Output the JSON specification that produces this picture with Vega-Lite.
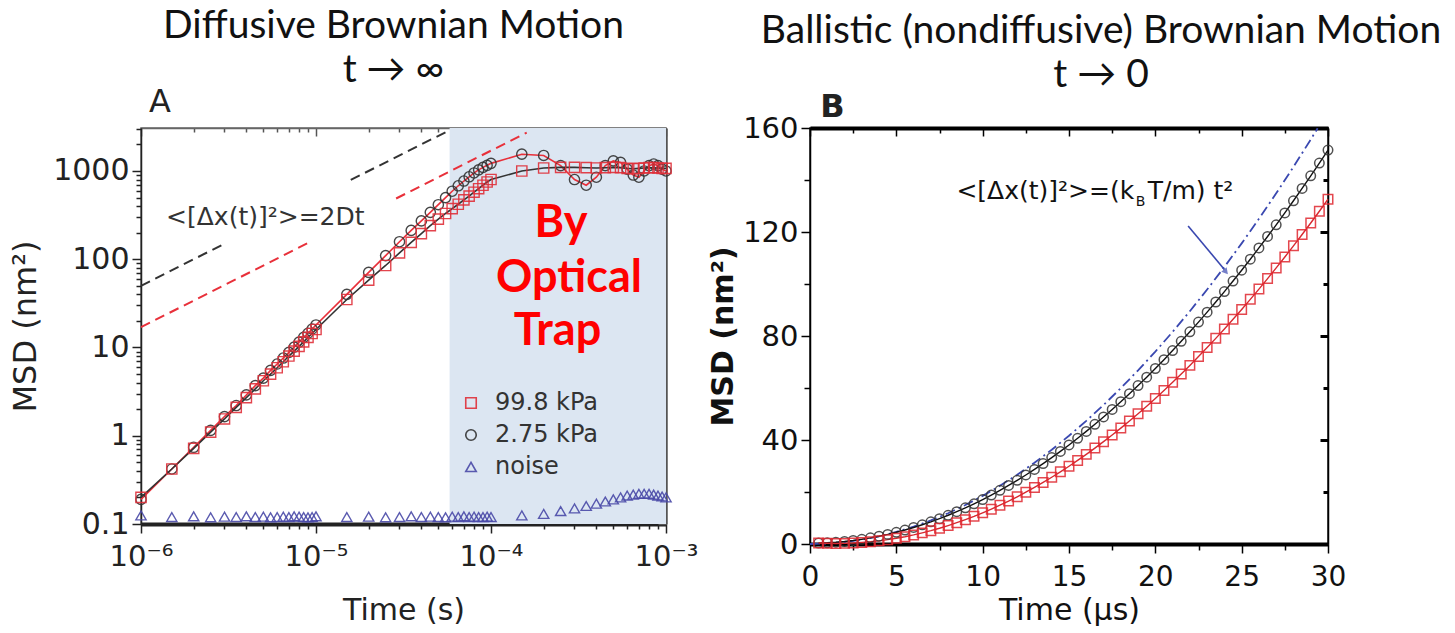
{
  "$schema": "https://vega.github.io/schema/vega-lite/v6.json",
  "padding": {"left": 8, "top": 6, "right": 0, "bottom": 0},
  "background": "white",
  "config": {
    "font": "DejaVu Sans",
    "axis": {"grid": false, "labelFont": "DejaVu Sans", "titleFont": "DejaVu Sans", "labelColor": "#222", "titleColor": "#222", "titleFontWeight": "normal", "labelOverlap": false, "labelBound": false, "labelFlush": false, "tickColor": "#222", "domainColor": "#222", "tickWidth": 1.5},
    "legend": {"labelFont": "DejaVu Sans", "title": null}
  },
  "datasets": {
    "A": [
      {"t":1e-6,"m":0.19,"s":"2.75 kPa"},{"t":1.5e-6,"m":0.42,"s":"2.75 kPa"},{"t":2e-6,"m":0.74,"s":"2.75 kPa"},{"t":2.5e-6,"m":1.15,"s":"2.75 kPa"},{"t":3e-6,"m":1.65,"s":"2.75 kPa"},{"t":3.5e-6,"m":2.2,"s":"2.75 kPa"},{"t":4e-6,"m":2.9,"s":"2.75 kPa"},{"t":4.5e-6,"m":3.7,"s":"2.75 kPa"},{"t":5e-6,"m":4.5,"s":"2.75 kPa"},{"t":5.5e-6,"m":5.5,"s":"2.75 kPa"},{"t":6e-6,"m":6.5,"s":"2.75 kPa"},{"t":6.5e-6,"m":7.6,"s":"2.75 kPa"},{"t":7e-6,"m":8.8,"s":"2.75 kPa"},{"t":7.5e-6,"m":10.1,"s":"2.75 kPa"},{"t":8e-6,"m":11.5,"s":"2.75 kPa"},{"t":8.5e-6,"m":13,"s":"2.75 kPa"},{"t":9e-6,"m":14.5,"s":"2.75 kPa"},{"t":9.5e-6,"m":16.2,"s":"2.75 kPa"},
      {"t":1e-5,"m":18,"s":"2.75 kPa"},{"t":1.5e-5,"m":40,"s":"2.75 kPa"},{"t":2e-5,"m":71,"s":"2.75 kPa"},{"t":2.5e-5,"m":110,"s":"2.75 kPa"},{"t":3e-5,"m":158,"s":"2.75 kPa"},{"t":3.5e-5,"m":212,"s":"2.75 kPa"},{"t":4e-5,"m":272,"s":"2.75 kPa"},{"t":4.5e-5,"m":340,"s":"2.75 kPa"},{"t":5e-5,"m":415,"s":"2.75 kPa"},{"t":5.5e-5,"m":500,"s":"2.75 kPa"},{"t":6e-5,"m":590,"s":"2.75 kPa"},{"t":6.5e-5,"m":680,"s":"2.75 kPa"},{"t":7e-5,"m":770,"s":"2.75 kPa"},{"t":7.5e-5,"m":860,"s":"2.75 kPa"},{"t":8e-5,"m":950,"s":"2.75 kPa"},{"t":8.5e-5,"m":1030,"s":"2.75 kPa"},{"t":9e-5,"m":1100,"s":"2.75 kPa"},{"t":9.5e-5,"m":1160,"s":"2.75 kPa"},
      {"t":1e-4,"m":1220,"s":"2.75 kPa"},{"t":1.5e-4,"m":1550,"s":"2.75 kPa"},{"t":2e-4,"m":1500,"s":"2.75 kPa"},{"t":2.5e-4,"m":1150,"s":"2.75 kPa"},{"t":3e-4,"m":800,"s":"2.75 kPa"},{"t":3.5e-4,"m":690,"s":"2.75 kPa"},{"t":4e-4,"m":850,"s":"2.75 kPa"},{"t":4.5e-4,"m":1150,"s":"2.75 kPa"},{"t":5e-4,"m":1300,"s":"2.75 kPa"},{"t":5.5e-4,"m":1250,"s":"2.75 kPa"},{"t":6e-4,"m":1050,"s":"2.75 kPa"},{"t":6.5e-4,"m":900,"s":"2.75 kPa"},{"t":7e-4,"m":850,"s":"2.75 kPa"},{"t":7.5e-4,"m":1000,"s":"2.75 kPa"},{"t":8e-4,"m":1150,"s":"2.75 kPa"},{"t":8.5e-4,"m":1200,"s":"2.75 kPa"},{"t":9e-4,"m":1150,"s":"2.75 kPa"},{"t":9.5e-4,"m":1050,"s":"2.75 kPa"},{"t":1e-3,"m":1000,"s":"2.75 kPa"},
      {"t":1e-6,"m":0.2,"s":"99.8 kPa"},{"t":1.5e-6,"m":0.42,"s":"99.8 kPa"},{"t":2e-6,"m":0.72,"s":"99.8 kPa"},{"t":2.5e-6,"m":1.1,"s":"99.8 kPa"},{"t":3e-6,"m":1.55,"s":"99.8 kPa"},{"t":3.5e-6,"m":2.1,"s":"99.8 kPa"},{"t":4e-6,"m":2.7,"s":"99.8 kPa"},{"t":4.5e-6,"m":3.4,"s":"99.8 kPa"},{"t":5e-6,"m":4.2,"s":"99.8 kPa"},{"t":5.5e-6,"m":5.0,"s":"99.8 kPa"},{"t":6e-6,"m":5.9,"s":"99.8 kPa"},{"t":6.5e-6,"m":6.9,"s":"99.8 kPa"},{"t":7e-6,"m":8.0,"s":"99.8 kPa"},{"t":7.5e-6,"m":9.1,"s":"99.8 kPa"},{"t":8e-6,"m":10.3,"s":"99.8 kPa"},{"t":8.5e-6,"m":11.6,"s":"99.8 kPa"},{"t":9e-6,"m":13,"s":"99.8 kPa"},{"t":9.5e-6,"m":14.4,"s":"99.8 kPa"},
      {"t":1e-5,"m":16,"s":"99.8 kPa"},{"t":1.5e-5,"m":35,"s":"99.8 kPa"},{"t":2e-5,"m":58,"s":"99.8 kPa"},{"t":2.5e-5,"m":85,"s":"99.8 kPa"},{"t":3e-5,"m":118,"s":"99.8 kPa"},{"t":3.5e-5,"m":155,"s":"99.8 kPa"},{"t":4e-5,"m":195,"s":"99.8 kPa"},{"t":4.5e-5,"m":240,"s":"99.8 kPa"},{"t":5e-5,"m":285,"s":"99.8 kPa"},{"t":5.5e-5,"m":330,"s":"99.8 kPa"},{"t":6e-5,"m":375,"s":"99.8 kPa"},{"t":6.5e-5,"m":420,"s":"99.8 kPa"},{"t":7e-5,"m":470,"s":"99.8 kPa"},{"t":7.5e-5,"m":520,"s":"99.8 kPa"},{"t":8e-5,"m":575,"s":"99.8 kPa"},{"t":8.5e-5,"m":630,"s":"99.8 kPa"},{"t":9e-5,"m":690,"s":"99.8 kPa"},{"t":9.5e-5,"m":750,"s":"99.8 kPa"},
      {"t":1e-4,"m":800,"s":"99.8 kPa"},{"t":1.5e-4,"m":1000,"s":"99.8 kPa"},{"t":2e-4,"m":1080,"s":"99.8 kPa"},{"t":2.5e-4,"m":1100,"s":"99.8 kPa"},{"t":3e-4,"m":1100,"s":"99.8 kPa"},{"t":3.5e-4,"m":1090,"s":"99.8 kPa"},{"t":4e-4,"m":1080,"s":"99.8 kPa"},{"t":4.5e-4,"m":1090,"s":"99.8 kPa"},{"t":5e-4,"m":1100,"s":"99.8 kPa"},{"t":5.5e-4,"m":1090,"s":"99.8 kPa"},{"t":6e-4,"m":1070,"s":"99.8 kPa"},{"t":6.5e-4,"m":1060,"s":"99.8 kPa"},{"t":7e-4,"m":1070,"s":"99.8 kPa"},{"t":7.5e-4,"m":1080,"s":"99.8 kPa"},{"t":8e-4,"m":1090,"s":"99.8 kPa"},{"t":8.5e-4,"m":1090,"s":"99.8 kPa"},{"t":9e-4,"m":1080,"s":"99.8 kPa"},{"t":9.5e-4,"m":1070,"s":"99.8 kPa"},{"t":1e-3,"m":1070,"s":"99.8 kPa"},
      {"t":1e-6,"m":0.125,"s":"noise"},{"t":1.5e-6,"m":0.12,"s":"noise"},{"t":2e-6,"m":0.122,"s":"noise"},{"t":2.5e-6,"m":0.119,"s":"noise"},{"t":3e-6,"m":0.121,"s":"noise"},{"t":3.5e-6,"m":0.12,"s":"noise"},{"t":4e-6,"m":0.122,"s":"noise"},{"t":4.5e-6,"m":0.12,"s":"noise"},{"t":5e-6,"m":0.121,"s":"noise"},{"t":5.5e-6,"m":0.119,"s":"noise"},{"t":6e-6,"m":0.12,"s":"noise"},{"t":6.5e-6,"m":0.121,"s":"noise"},{"t":7e-6,"m":0.12,"s":"noise"},{"t":7.5e-6,"m":0.122,"s":"noise"},{"t":8e-6,"m":0.121,"s":"noise"},{"t":8.5e-6,"m":0.12,"s":"noise"},{"t":9e-6,"m":0.119,"s":"noise"},{"t":9.5e-6,"m":0.12,"s":"noise"},
      {"t":1e-5,"m":0.122,"s":"noise"},{"t":1.5e-5,"m":0.12,"s":"noise"},{"t":2e-5,"m":0.121,"s":"noise"},{"t":2.5e-5,"m":0.119,"s":"noise"},{"t":3e-5,"m":0.12,"s":"noise"},{"t":3.5e-5,"m":0.122,"s":"noise"},{"t":4e-5,"m":0.12,"s":"noise"},{"t":4.5e-5,"m":0.121,"s":"noise"},{"t":5e-5,"m":0.12,"s":"noise"},{"t":5.5e-5,"m":0.119,"s":"noise"},{"t":6e-5,"m":0.121,"s":"noise"},{"t":6.5e-5,"m":0.12,"s":"noise"},{"t":7e-5,"m":0.122,"s":"noise"},{"t":7.5e-5,"m":0.12,"s":"noise"},{"t":8e-5,"m":0.121,"s":"noise"},{"t":8.5e-5,"m":0.12,"s":"noise"},{"t":9e-5,"m":0.12,"s":"noise"},{"t":9.5e-5,"m":0.121,"s":"noise"},
      {"t":1e-4,"m":0.12,"s":"noise"},{"t":1.5e-4,"m":0.125,"s":"noise"},{"t":2e-4,"m":0.13,"s":"noise"},{"t":2.5e-4,"m":0.14,"s":"noise"},{"t":3e-4,"m":0.15,"s":"noise"},{"t":3.5e-4,"m":0.16,"s":"noise"},{"t":4e-4,"m":0.17,"s":"noise"},{"t":4.5e-4,"m":0.18,"s":"noise"},{"t":5e-4,"m":0.19,"s":"noise"},{"t":5.5e-4,"m":0.2,"s":"noise"},{"t":6e-4,"m":0.21,"s":"noise"},{"t":6.5e-4,"m":0.215,"s":"noise"},{"t":7e-4,"m":0.22,"s":"noise"},{"t":7.5e-4,"m":0.22,"s":"noise"},{"t":8e-4,"m":0.22,"s":"noise"},{"t":8.5e-4,"m":0.215,"s":"noise"},{"t":9e-4,"m":0.21,"s":"noise"},{"t":9.5e-4,"m":0.205,"s":"noise"},{"t":1e-3,"m":0.2,"s":"noise"}
    ],
    "Adash": [
      {"t":1e-6,"m":50,"g":"k1","c":"k"},{"t":2.94e-6,"m":147,"g":"k1","c":"k"},
      {"t":1.58e-5,"m":792,"g":"k2","c":"k"},{"t":5.8e-5,"m":2900,"g":"k2","c":"k"},
      {"t":1e-6,"m":17,"g":"r1","c":"r"},{"t":9.37e-6,"m":159,"g":"r1","c":"r"},
      {"t":2.87e-5,"m":488,"g":"r2","c":"r"},{"t":1.6e-4,"m":2720,"g":"r2","c":"r"}
    ],
    "B": [
      {"t":0.5,"m":0.34,"s":"2.75 kPa"},{"t":1,"m":0.47,"s":"2.75 kPa"},{"t":1.5,"m":0.68,"s":"2.75 kPa"},{"t":2,"m":0.97,"s":"2.75 kPa"},{"t":2.5,"m":1.35,"s":"2.75 kPa"},{"t":3,"m":1.81,"s":"2.75 kPa"},{"t":3.5,"m":2.36,"s":"2.75 kPa"},{"t":4,"m":2.99,"s":"2.75 kPa"},{"t":4.5,"m":3.7,"s":"2.75 kPa"},{"t":5,"m":4.5,"s":"2.75 kPa"},{"t":5.5,"m":5.38,"s":"2.75 kPa"},{"t":6,"m":6.35,"s":"2.75 kPa"},{"t":6.5,"m":7.4,"s":"2.75 kPa"},{"t":7,"m":8.53,"s":"2.75 kPa"},{"t":7.5,"m":9.75,"s":"2.75 kPa"},{"t":8,"m":11.05,"s":"2.75 kPa"},{"t":8.5,"m":12.44,"s":"2.75 kPa"},{"t":9,"m":13.91,"s":"2.75 kPa"},{"t":9.5,"m":15.46,"s":"2.75 kPa"},{"t":10,"m":17.1,"s":"2.75 kPa"},
      {"t":10.5,"m":18.82,"s":"2.75 kPa"},{"t":11,"m":20.63,"s":"2.75 kPa"},{"t":11.5,"m":22.52,"s":"2.75 kPa"},{"t":12,"m":24.49,"s":"2.75 kPa"},{"t":12.5,"m":26.55,"s":"2.75 kPa"},{"t":13,"m":28.69,"s":"2.75 kPa"},{"t":13.5,"m":30.92,"s":"2.75 kPa"},{"t":14,"m":33.23,"s":"2.75 kPa"},{"t":14.5,"m":35.62,"s":"2.75 kPa"},{"t":15,"m":38.1,"s":"2.75 kPa"},{"t":15.5,"m":40.66,"s":"2.75 kPa"},{"t":16,"m":43.31,"s":"2.75 kPa"},{"t":16.5,"m":46.04,"s":"2.75 kPa"},{"t":17,"m":48.85,"s":"2.75 kPa"},{"t":17.5,"m":51.75,"s":"2.75 kPa"},{"t":18,"m":54.73,"s":"2.75 kPa"},{"t":18.5,"m":57.8,"s":"2.75 kPa"},{"t":19,"m":60.95,"s":"2.75 kPa"},{"t":19.5,"m":64.18,"s":"2.75 kPa"},{"t":20,"m":67.5,"s":"2.75 kPa"},
      {"t":20.5,"m":70.9,"s":"2.75 kPa"},{"t":21,"m":74.39,"s":"2.75 kPa"},{"t":21.5,"m":77.96,"s":"2.75 kPa"},{"t":22,"m":81.61,"s":"2.75 kPa"},{"t":22.5,"m":85.35,"s":"2.75 kPa"},{"t":23,"m":89.17,"s":"2.75 kPa"},{"t":23.5,"m":93.08,"s":"2.75 kPa"},{"t":24,"m":97.07,"s":"2.75 kPa"},{"t":24.5,"m":101.14,"s":"2.75 kPa"},{"t":25,"m":105.3,"s":"2.75 kPa"},{"t":25.5,"m":109.54,"s":"2.75 kPa"},{"t":26,"m":113.87,"s":"2.75 kPa"},{"t":26.5,"m":118.28,"s":"2.75 kPa"},{"t":27,"m":122.77,"s":"2.75 kPa"},{"t":27.5,"m":127.35,"s":"2.75 kPa"},{"t":28,"m":132.01,"s":"2.75 kPa"},{"t":28.5,"m":136.76,"s":"2.75 kPa"},{"t":29,"m":141.59,"s":"2.75 kPa"},{"t":29.5,"m":146.5,"s":"2.75 kPa"},{"t":30,"m":151.5,"s":"2.75 kPa"},
      {"t":0.5,"m":0.4,"s":"99.8 kPa"},{"t":1,"m":0.3,"s":"99.8 kPa"},{"t":1.5,"m":0.2,"s":"99.8 kPa"},{"t":2,"m":0.24,"s":"99.8 kPa"},{"t":2.5,"m":0.36,"s":"99.8 kPa"},{"t":3,"m":0.57,"s":"99.8 kPa"},{"t":3.5,"m":0.85,"s":"99.8 kPa"},{"t":4,"m":1.22,"s":"99.8 kPa"},{"t":4.5,"m":1.67,"s":"99.8 kPa"},{"t":5,"m":2.2,"s":"99.8 kPa"},{"t":5.5,"m":2.81,"s":"99.8 kPa"},{"t":6,"m":3.5,"s":"99.8 kPa"},{"t":6.5,"m":4.28,"s":"99.8 kPa"},{"t":7,"m":5.13,"s":"99.8 kPa"},{"t":7.5,"m":6.07,"s":"99.8 kPa"},{"t":8,"m":7.09,"s":"99.8 kPa"},{"t":8.5,"m":8.19,"s":"99.8 kPa"},{"t":9,"m":9.37,"s":"99.8 kPa"},{"t":9.5,"m":10.63,"s":"99.8 kPa"},{"t":10,"m":11.98,"s":"99.8 kPa"},
      {"t":10.5,"m":13.4,"s":"99.8 kPa"},{"t":11,"m":14.91,"s":"99.8 kPa"},{"t":11.5,"m":16.5,"s":"99.8 kPa"},{"t":12,"m":18.17,"s":"99.8 kPa"},{"t":12.5,"m":19.92,"s":"99.8 kPa"},{"t":13,"m":21.76,"s":"99.8 kPa"},{"t":13.5,"m":23.67,"s":"99.8 kPa"},{"t":14,"m":25.67,"s":"99.8 kPa"},{"t":14.5,"m":27.75,"s":"99.8 kPa"},{"t":15,"m":29.91,"s":"99.8 kPa"},{"t":15.5,"m":32.15,"s":"99.8 kPa"},{"t":16,"m":34.47,"s":"99.8 kPa"},{"t":16.5,"m":36.88,"s":"99.8 kPa"},{"t":17,"m":39.36,"s":"99.8 kPa"},{"t":17.5,"m":41.93,"s":"99.8 kPa"},{"t":18,"m":44.58,"s":"99.8 kPa"},{"t":18.5,"m":47.31,"s":"99.8 kPa"},{"t":19,"m":50.12,"s":"99.8 kPa"},{"t":19.5,"m":53.01,"s":"99.8 kPa"},{"t":20,"m":55.99,"s":"99.8 kPa"},
      {"t":20.5,"m":59.04,"s":"99.8 kPa"},{"t":21,"m":62.18,"s":"99.8 kPa"},{"t":21.5,"m":65.4,"s":"99.8 kPa"},{"t":22,"m":68.7,"s":"99.8 kPa"},{"t":22.5,"m":72.08,"s":"99.8 kPa"},{"t":23,"m":75.55,"s":"99.8 kPa"},{"t":23.5,"m":79.09,"s":"99.8 kPa"},{"t":24,"m":82.72,"s":"99.8 kPa"},{"t":24.5,"m":86.43,"s":"99.8 kPa"},{"t":25,"m":90.22,"s":"99.8 kPa"},{"t":25.5,"m":94.09,"s":"99.8 kPa"},{"t":26,"m":98.04,"s":"99.8 kPa"},{"t":26.5,"m":102.08,"s":"99.8 kPa"},{"t":27,"m":106.19,"s":"99.8 kPa"},{"t":27.5,"m":110.39,"s":"99.8 kPa"},{"t":28,"m":114.67,"s":"99.8 kPa"},{"t":28.5,"m":119.03,"s":"99.8 kPa"},{"t":29,"m":123.47,"s":"99.8 kPa"},{"t":29.5,"m":127.99,"s":"99.8 kPa"},{"t":30,"m":132.6,"s":"99.8 kPa"}
    ],
    "Bblue": [
      {"t":0,"m":0},{"t":1,"m":0.185},{"t":2,"m":0.74},{"t":3,"m":1.665},{"t":4,"m":2.96},{"t":5,"m":4.625},{"t":6,"m":6.66},{"t":7,"m":9.065},{"t":8,"m":11.84},{"t":9,"m":14.985},{"t":10,"m":18.5},{"t":11,"m":22.385},{"t":12,"m":26.64},{"t":13,"m":31.265},{"t":14,"m":36.26},{"t":15,"m":41.625},{"t":16,"m":47.36},{"t":17,"m":53.465},{"t":18,"m":59.94},{"t":19,"m":66.785},{"t":20,"m":74},{"t":21,"m":81.585},{"t":22,"m":89.54},{"t":23,"m":97.865},{"t":24,"m":106.56},{"t":25,"m":115.625},{"t":26,"m":125.06},{"t":27,"m":134.865},{"t":28,"m":145.04},{"t":29,"m":155.585},{"t":29.4,"m":159.9}
    ]
  },
  "hconcat": [
    {
      "width": 525,
      "height": 396,
      "title": {"text": ["Diffusive Brownian Motion", "t → ∞"], "font": "Lato", "fontSize": 39, "fontWeight": "normal", "lineHeight": 44, "color": "#111", "anchor": "middle", "offset": -4, "dx": -10},
      "view": {"stroke": "#666", "strokeWidth": 1.5},
      "layer": [
        {
          "data": {"values": [{"t1": 5.8e-5, "t2": 1e-3, "y1": 0.1, "y2": 3070}]},
          "mark": {"type": "rect", "fill": "#dce6f2"},
          "encoding": {
            "x": {"field": "t1", "type": "quantitative", "scale": {"type": "log", "domain": [1e-6, 1e-3], "nice": false},
              "axis": {"orient": "bottom", "values": [1e-6,2e-6,3e-6,4e-6,5e-6,6e-6,7e-6,8e-6,9e-6,1e-5,2e-5,3e-5,4e-5,5e-5,6e-5,7e-5,8e-5,9e-5,1e-4,2e-4,3e-4,4e-4,5e-4,6e-4,7e-4,8e-4,9e-4,1e-3],
                "labelExpr": "datum.value==1e-6?'10⁻⁶':datum.value==1e-5?'10⁻⁵':datum.value==1e-4?'10⁻⁴':datum.value==1e-3?'10⁻³':''",
                "tickSize": {"condition": {"test": "indexof([1e-6,1e-5,1e-4,1e-3],datum.value)>=0", "value": 9}, "value": 5},
                "domainWidth": 4, "labelFontSize": 29, "labelPadding": 9, "title": "Time (s)", "titleFontSize": 30, "titlePadding": 24}},
            "x2": {"field": "t2"},
            "y": {"field": "y1", "type": "quantitative", "scale": {"type": "log", "domain": [0.1, 3070], "nice": false},
              "axis": {"orient": "left", "values": [0.1,0.2,0.3,0.4,0.5,0.6,0.7,0.8,0.9,1,2,3,4,5,6,7,8,9,10,20,30,40,50,60,70,80,90,100,200,300,400,500,600,700,800,900,1000,2000,3000],
                "labelExpr": "indexof([0.1,1,10,100,1000],datum.value)>=0?format(datum.value,'~g'):''",
                "tickSize": {"condition": {"test": "indexof([0.1,1,10,100,1000],datum.value)>=0", "value": 9}, "value": 5},
                "domainWidth": 1.5, "labelFontSize": 30, "labelPadding": 3, "title": "MSD (nm²)", "titleFontSize": 32, "titlePadding": 10}},
            "y2": {"field": "y2"}
          }
        },
        {
          "data": {"name": "Adash"},
          "mark": {"type": "line", "strokeDash": [10, 6], "strokeWidth": 2},
          "encoding": {
            "x": {"field": "t", "type": "quantitative", "axis": null},
            "y": {"field": "m", "type": "quantitative", "axis": null},
            "detail": {"field": "g"},
            "stroke": {"field": "c", "type": "nominal", "scale": {"domain": ["k", "r"], "range": ["#333333", "#e8303a"]}, "legend": null}
          }
        },
        {
          "data": {"name": "A"},
          "transform": [{"filter": "datum.s != 'noise'"}],
          "mark": {"type": "line", "strokeWidth": 1.6},
          "encoding": {
            "x": {"field": "t", "type": "quantitative", "axis": null},
            "y": {"field": "m", "type": "quantitative", "axis": null},
            "stroke": {"field": "s", "type": "nominal", "scale": {"domain": ["99.8 kPa", "2.75 kPa"], "range": ["#d8282f", "#222222"]}, "legend": null}
          }
        },
        {
          "data": {"name": "A"},
          "mark": {"type": "point", "filled": false, "size": 105, "strokeWidth": 1.4, "opacity": 0.9},
          "encoding": {
            "x": {"field": "t", "type": "quantitative", "axis": null},
            "y": {"field": "m", "type": "quantitative", "axis": null},
            "color": {"field": "s", "type": "nominal", "scale": {"domain": ["99.8 kPa", "2.75 kPa", "noise"], "range": ["#e0303a", "#333333", "#4a4aa8"]},
              "legend": {"orient": "none", "legendX": 318, "legendY": 263, "labelFontSize": 24, "labelColor": "#333", "symbolSize": 110, "symbolStrokeWidth": 1.6, "rowPadding": 8, "labelOffset": 12}},
            "shape": {"field": "s", "type": "nominal", "scale": {"domain": ["99.8 kPa", "2.75 kPa", "noise"], "range": ["square", "circle", "triangle-up"]}}
          }
        },
        {
          "data": {"values": [{"t": 1.39e-6, "m": 300, "txt": "<[Δx(t)]²>=2Dt"}]},
          "mark": {"type": "text", "align": "left", "baseline": "middle", "fontSize": 25, "color": "#333", "font": "DejaVu Sans"},
          "encoding": {"x": {"field": "t", "type": "quantitative", "axis": null}, "y": {"field": "m", "type": "quantitative", "axis": null}, "text": {"field": "txt"}}
        },
        {
          "data": {"values": [{"t": 2.51e-4, "m": 256, "txt": "By"}, {"t": 2.79e-4, "m": 61, "txt": "Optical"}, {"t": 2.4e-4, "m": 15.2, "txt": "Trap"}]},
          "mark": {"type": "text", "align": "center", "baseline": "middle", "fontSize": 45, "fontWeight": "bold", "color": "#ff0000", "font": "Lato"},
          "encoding": {"x": {"field": "t", "type": "quantitative", "axis": null}, "y": {"field": "m", "type": "quantitative", "axis": null}, "text": {"field": "txt"}}
        },
        {
          "data": {"values": [{"t": 1.11e-6, "m": 6000, "txt": "A"}]},
          "mark": {"type": "text", "align": "left", "baseline": "middle", "fontSize": 32, "color": "#222", "clip": false},
          "encoding": {"x": {"field": "t", "type": "quantitative", "axis": null}, "y": {"field": "m", "type": "quantitative", "axis": null}, "text": {"field": "txt"}}
        },
        {
          "data": {"values": [{"t": 1e-6, "m": 0.1}]},
          "mark": {"type": "point", "opacity": 0},
          "encoding": {
            "x": {"field": "t", "type": "quantitative",
              "axis": {"orient": "top", "values": [1e-6,2e-6,3e-6,4e-6,5e-6,6e-6,7e-6,8e-6,9e-6,1e-5,2e-5,3e-5,4e-5,5e-5,6e-5,7e-5,8e-5,9e-5,1e-4,2e-4,3e-4,4e-4,5e-4,6e-4,7e-4,8e-4,9e-4,1e-3], "labels": false, "title": null, "domainColor": "#666", "domainWidth": 1.5, "tickColor": "#555",
                "tickSize": {"condition": {"test": "indexof([1e-6,1e-5,1e-4,1e-3],datum.value)>=0", "value": -8}, "value": -4}}},
            "y": {"field": "m", "type": "quantitative",
              "axis": {"orient": "right", "values": [0.1,0.2,0.3,0.4,0.5,0.6,0.7,0.8,0.9,1,2,3,4,5,6,7,8,9,10,20,30,40,50,60,70,80,90,100,200,300,400,500,600,700,800,900,1000,2000,3000], "labels": false, "title": null, "domainColor": "#555", "domainWidth": 2.5, "tickColor": "#555",
                "tickSize": {"condition": {"test": "indexof([0.1,1,10,100,1000],datum.value)>=0", "value": -8}, "value": -4}}}
          }
        }
      ],
      "resolve": {"axis": {"x": "independent", "y": "independent"}}
    },
    {
      "width": 518,
      "height": 416,
      "title": {"text": ["Ballistic (nondiffusive) Brownian Motion", "t → 0"], "font": "Lato", "fontSize": 39, "fontWeight": "normal", "lineHeight": 44, "color": "#111", "anchor": "middle", "offset": -4, "dx": 32},
      "view": {"stroke": "#111", "strokeWidth": 1.5},
      "layer": [
        {
          "data": {"name": "Bblue"},
          "mark": {"type": "line", "strokeDash": [10, 4, 2, 4], "strokeWidth": 1.8, "color": "#3a48b0"},
          "encoding": {
            "x": {"field": "t", "type": "quantitative", "scale": {"domain": [0, 30], "nice": false},
              "axis": {"orient": "bottom", "values": [0,2.5,5,7.5,10,12.5,15,17.5,20,22.5,25,27.5,30],
                "labelExpr": "datum.value % 5 == 0 ? datum.label : ''",
                "tickSize": {"condition": {"test": "datum.value % 5 == 0", "value": 9}, "value": 6},
                "domainWidth": 4, "domainColor": "#000", "tickColor": "#000", "labelColor": "#111", "labelFontSize": 28, "labelPadding": 10, "title": "Time (µs)", "titleFontSize": 30, "titlePadding": 4, "titleColor": "#111"}},
            "y": {"field": "m", "type": "quantitative", "scale": {"domain": [0, 160], "nice": false},
              "axis": {"orient": "left", "values": [0,20,40,60,80,100,120,140,160],
                "labelExpr": "datum.value % 40 == 0 ? datum.label : ''",
                "tickSize": {"condition": {"test": "datum.value % 40 == 0", "value": 9}, "value": 6},
                "domainWidth": 1.5, "domainColor": "#000", "tickColor": "#000", "labelColor": "#111", "labelFontSize": 29, "labelPadding": 3, "title": "MSD (nm²)", "titleFontSize": 30, "titleFontWeight": "bold", "titlePadding": 4, "titleColor": "#111"}}
          }
        },
        {
          "data": {"name": "B"},
          "mark": {"type": "line", "strokeWidth": 1.4},
          "encoding": {
            "x": {"field": "t", "type": "quantitative", "axis": null},
            "y": {"field": "m", "type": "quantitative", "axis": null},
            "stroke": {"field": "s", "type": "nominal", "scale": {"domain": ["99.8 kPa", "2.75 kPa"], "range": ["#d8282f", "#111111"]}, "legend": null}
          }
        },
        {
          "data": {"name": "B"},
          "mark": {"type": "point", "filled": false, "size": 90, "strokeWidth": 1.5, "opacity": 0.85},
          "encoding": {
            "x": {"field": "t", "type": "quantitative", "axis": null},
            "y": {"field": "m", "type": "quantitative", "axis": null},
            "color": {"field": "s", "type": "nominal", "scale": {"domain": ["99.8 kPa", "2.75 kPa"], "range": ["#e02830", "#333333"]},
              "legend": {"orient": "none", "legendX": 368, "legendY": 320, "labelFontSize": 24, "labelColor": "#111", "symbolSize": 110, "symbolStrokeWidth": 2, "rowPadding": 10, "labelOffset": 18}},
            "shape": {"field": "s", "type": "nominal", "scale": {"domain": ["99.8 kPa", "2.75 kPa"], "range": ["square", "circle"]}}
          }
        },
        {
          "data": {"values": [{"x1": 21.9, "y1": 122.3, "x2": 24.0, "y2": 105.6}]},
          "mark": {"type": "rule", "color": "#3a48b0", "strokeWidth": 1.6},
          "encoding": {"x": {"field": "x1", "type": "quantitative", "axis": null}, "y": {"field": "y1", "type": "quantitative", "axis": null}, "x2": {"field": "x2"}, "y2": {"field": "y2"}}
        },
        {
          "data": {"values": [{"t": 24.05, "m": 105}]},
          "mark": {"type": "point", "shape": "triangle", "angle": 140, "filled": true, "size": 50, "color": "#3a48b0"},
          "encoding": {"x": {"field": "t", "type": "quantitative", "axis": null}, "y": {"field": "m", "type": "quantitative", "axis": null}}
        },
        {
          "data": {"values": [{"t": 8.48, "m": 135.8, "txt": "<[Δx(t)]²>=(k", "p": "a"}, {"t": 19.56, "m": 135.8, "txt": "T/m) t²", "p": "c"}]},
          "mark": {"type": "text", "align": "left", "baseline": "middle", "fontSize": 25, "color": "#111"},
          "encoding": {"x": {"field": "t", "type": "quantitative", "axis": null}, "y": {"field": "m", "type": "quantitative", "axis": null}, "text": {"field": "txt"}}
        },
        {
          "data": {"values": [{"t": 18.87, "m": 131.5, "txt": "B"}]},
          "mark": {"type": "text", "align": "left", "baseline": "middle", "fontSize": 14, "color": "#111"},
          "encoding": {"x": {"field": "t", "type": "quantitative", "axis": null}, "y": {"field": "m", "type": "quantitative", "axis": null}, "text": {"field": "txt"}}
        },
        {
          "data": {"values": [{"t": 0.6, "m": 168, "txt": "B"}]},
          "mark": {"type": "text", "align": "left", "baseline": "middle", "fontSize": 32, "fontWeight": "bold", "color": "#222", "clip": false},
          "encoding": {"x": {"field": "t", "type": "quantitative", "axis": null}, "y": {"field": "m", "type": "quantitative", "axis": null}, "text": {"field": "txt"}}
        },
        {
          "data": {"values": [{"t": 0, "m": 0}]},
          "mark": {"type": "point", "opacity": 0},
          "encoding": {
            "x": {"field": "t", "type": "quantitative",
              "axis": {"orient": "top", "values": [0,2.5,5,7.5,10,12.5,15,17.5,20,22.5,25,27.5,30], "labels": false, "title": null, "domainColor": "#000", "domainWidth": 4, "tickColor": "#000",
                "tickSize": {"condition": {"test": "datum.value % 5 == 0", "value": -8}, "value": -5}}},
            "y": {"field": "m", "type": "quantitative",
              "axis": {"orient": "right", "values": [0,20,40,60,80,100,120,140,160], "labels": false, "title": null, "domainColor": "#000", "domainWidth": 1.5, "tickColor": "#000", "tickWidth": 3,
                "tickSize": {"condition": {"test": "datum.value % 40 == 0", "value": -8}, "value": -5}}}
          }
        }
      ],
      "resolve": {"axis": {"x": "independent", "y": "independent"}}
    }
  ],
  "spacing": 8,
  "resolve": {"scale": {"color": "independent", "shape": "independent", "stroke": "independent"}, "legend": {"color": "independent", "shape": "independent"}}
}
